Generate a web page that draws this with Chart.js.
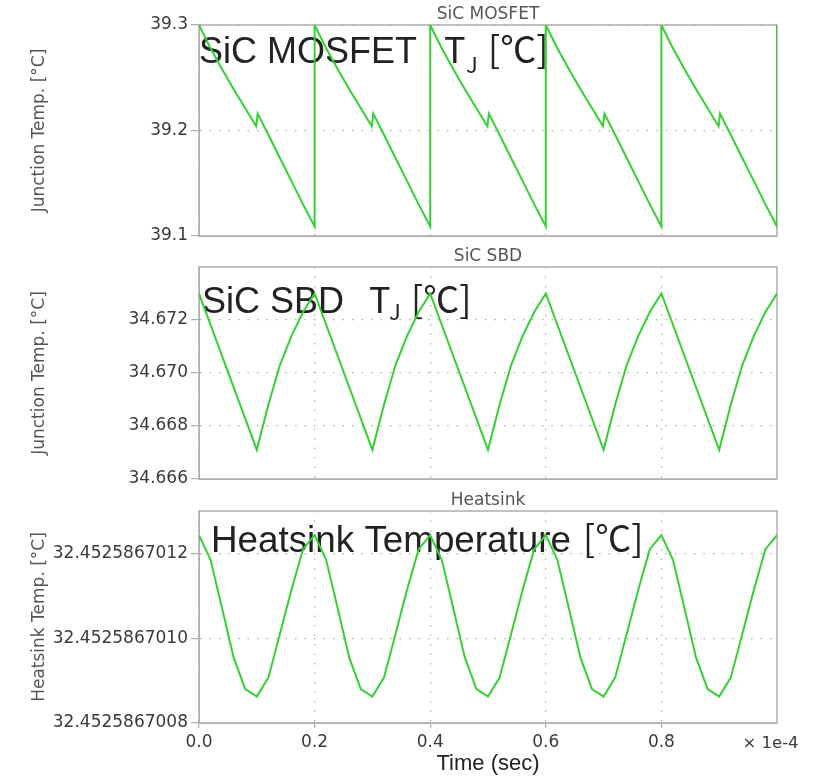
<!DOCTYPE html>
<html><head><meta charset="utf-8">
<script src="https://cdn.jsdelivr.net/npm/chart.js@4.4.0/dist/chart.umd.min.js"></script>
<style>
html,body{margin:0;padding:0;background:#fff;}
#wrap{position:relative;width:822px;height:780px;background:#fff;}
canvas{position:absolute;left:0;top:0;}
</style></head><body>
<div id="wrap">
<canvas id="c1" width="822" height="780"></canvas>
<canvas id="c2" width="822" height="780"></canvas>
<canvas id="c3" width="822" height="780"></canvas>
</div>
<script>
// Time values are in units of 1e-4 s
const X_TICKS = [0, 0.2, 0.4, 0.6, 0.8];

const MOSFET_TIME = [
  0, 0.02, 0.04, 0.06, 0.08, 0.099, 0.1015, 0.12, 0.14, 0.16, 0.18, 0.2,
  0.2, 0.22, 0.24, 0.26, 0.28, 0.299, 0.3015, 0.32, 0.34, 0.36, 0.38, 0.4,
  0.4, 0.42, 0.44, 0.46, 0.48, 0.499, 0.5015, 0.52, 0.54, 0.56, 0.58, 0.6,
  0.6, 0.62, 0.64, 0.66, 0.68, 0.699, 0.7015, 0.72, 0.74, 0.76, 0.78, 0.8,
  0.8, 0.82, 0.84, 0.86, 0.88, 0.899, 0.9015, 0.92, 0.94, 0.96, 0.98, 1.0,
  1.0
];
const MOSFET_TEMP = [
  39.300, 39.278, 39.258, 39.239, 39.221, 39.204, 39.216, 39.196, 39.174, 39.152, 39.130, 39.109,
  39.300, 39.278, 39.258, 39.239, 39.221, 39.204, 39.216, 39.196, 39.174, 39.152, 39.130, 39.109,
  39.300, 39.278, 39.258, 39.239, 39.221, 39.204, 39.216, 39.196, 39.174, 39.152, 39.130, 39.109,
  39.300, 39.278, 39.258, 39.239, 39.221, 39.204, 39.216, 39.196, 39.174, 39.152, 39.130, 39.109,
  39.300, 39.278, 39.258, 39.239, 39.221, 39.204, 39.216, 39.196, 39.174, 39.152, 39.130, 39.109,
  39.300
];
const MOSFET_Y_TICKS = [39.1, 39.2, 39.3];

const SBD_TIME = [
  0, 0.1, 0.12, 0.14, 0.16, 0.18,
  0.2, 0.3, 0.32, 0.34, 0.36, 0.38,
  0.4, 0.5, 0.52, 0.54, 0.56, 0.58,
  0.6, 0.7, 0.72, 0.74, 0.76, 0.78,
  0.8, 0.9, 0.92, 0.94, 0.96, 0.98,
  1.0
];
const SBD_TEMP = [
  34.6730, 34.6671, 34.6688, 34.6703, 34.6714, 34.6723,
  34.6730, 34.6671, 34.6688, 34.6703, 34.6714, 34.6723,
  34.6730, 34.6671, 34.6688, 34.6703, 34.6714, 34.6723,
  34.6730, 34.6671, 34.6688, 34.6703, 34.6714, 34.6723,
  34.6730, 34.6671, 34.6688, 34.6703, 34.6714, 34.6723,
  34.6730
];
const SBD_Y_TICKS = [34.666, 34.668, 34.670, 34.672];

const HEATSINK_TIME = [
  0, 0.02, 0.04, 0.06, 0.08, 0.1, 0.12, 0.14, 0.16, 0.18,
  0.2, 0.22, 0.24, 0.26, 0.28, 0.3, 0.32, 0.34, 0.36, 0.38,
  0.4, 0.42, 0.44, 0.46, 0.48, 0.5, 0.52, 0.54, 0.56, 0.58,
  0.6, 0.62, 0.64, 0.66, 0.68, 0.7, 0.72, 0.74, 0.76, 0.78,
  0.8, 0.82, 0.84, 0.86, 0.88, 0.9, 0.92, 0.94, 0.96, 0.98,
  1.0
];
const HEATSINK_TEMP = [
  32.452586701243, 32.452586701185, 32.45258670107, 32.452586700954, 32.45258670088, 32.4525867008625, 32.452586700907, 32.45258670101, 32.452586701114, 32.45258670121,
  32.452586701243, 32.452586701185, 32.45258670107, 32.452586700954, 32.45258670088, 32.4525867008625, 32.452586700907, 32.45258670101, 32.452586701114, 32.45258670121,
  32.452586701243, 32.452586701185, 32.45258670107, 32.452586700954, 32.45258670088, 32.4525867008625, 32.452586700907, 32.45258670101, 32.452586701114, 32.45258670121,
  32.452586701243, 32.452586701185, 32.45258670107, 32.452586700954, 32.45258670088, 32.4525867008625, 32.452586700907, 32.45258670101, 32.452586701114, 32.45258670121,
  32.452586701243, 32.452586701185, 32.45258670107, 32.452586700954, 32.45258670088, 32.4525867008625, 32.452586700907, 32.45258670101, 32.452586701114, 32.45258670121,
  32.452586701243
];
const HEATSINK_Y_TICKS = [32.4525867008, 32.4525867010, 32.4525867012];

const GREEN = 'rgb(52,208,52)';
const GRIDC = 'rgba(140,140,140,0.7)';
const AXIS = 'rgb(175,175,175)';
const TICKC = '#3a3a3a';
const SMALL_FONT = 'DejaVu Sans';
const SMALL_SIZE = 17;

function panelPlugin(p) {
  return {
    id: 'panel_' + p.id,
    beforeDatasetsDraw(chart) {
      const ctx = chart.ctx, a = chart.chartArea;
      ctx.save();
      ctx.strokeStyle = AXIS; ctx.lineWidth = 1.5;
      ctx.strokeRect(a.left, a.top, a.right - a.left, a.bottom - a.top);
      ctx.fillStyle = '#555';
      ctx.font = SMALL_SIZE + 'px "' + SMALL_FONT + '"';
      ctx.textAlign = 'center'; ctx.textBaseline = 'alphabetic';
      ctx.fillText(p.panelTitle, (a.left + a.right) / 2, a.top - 6);
      ctx.fillStyle = '#222';
      ctx.textAlign = 'left';
      p.label.forEach(part => {
        ctx.font = part.size + 'px ' + part.family;
        ctx.fillText(part.text, part.x, part.y);
      });
      if (p.showX) {
        ctx.fillStyle = TICKC;
        ctx.font = '16.5px "' + SMALL_FONT + '"';
        ctx.textAlign = 'center'; ctx.textBaseline = 'middle';
        ctx.fillText('\u00d7 1e-4', 770.5, 744);
      }
      ctx.restore();
    }
  };
}

function makeChart(p) {
  return new Chart(document.getElementById(p.id), {
    type: 'line',
    data: { datasets: [{
      data: p.time.map((t, i) => ({ x: t, y: p.temp[i] })),
      borderColor: GREEN, borderWidth: 2, pointRadius: 0, tension: 0, fill: false
    }]},
    options: {
      responsive: false, animation: false, devicePixelRatio: 1,
      layout: { padding: { top: p.top, bottom: p.bottom, left: 0, right: 45 } },
      plugins: { legend: { display: false }, tooltip: { enabled: false }, title: { display: false } },
      scales: {
        x: {
          type: 'linear', min: 0, max: 1,
          afterBuildTicks: s => { s.ticks = X_TICKS.map(v => ({ value: v })); },
          afterFit: s => { s.height = p.xHeight; },
          grid: { color: GRIDC, lineWidth: 1.2, drawTicks: p.showX, tickLength: 5, tickColor: AXIS, tickBorderDash: [], tickWidth: 1.2 },
          border: { display: true, color: AXIS, width: 1, dash: [1.5, 8] },
          ticks: { display: p.showX, autoSkip: false, maxRotation: 0, padding: 4, color: TICKC,
                   font: { family: SMALL_FONT, size: SMALL_SIZE }, callback: v => Number(v).toFixed(1) },
          title: { display: p.showX, text: 'Time (sec)', color: '#222',
                   font: { family: 'Liberation Sans', size: 22 }, padding: { top: 0, bottom: 3 } }
        },
        y: {
          type: 'linear', min: p.yMin, max: p.yMax,
          afterBuildTicks: s => { s.ticks = p.yTicks.map(v => ({ value: v })); },
          afterFit: s => { s.width = 199; },
          grid: { color: GRIDC, lineWidth: 1.2, drawTicks: true, tickLength: 8, tickColor: AXIS, tickBorderDash: [], tickWidth: 1.2 },
          border: { display: true, color: AXIS, width: 1, dash: [1.5, 8] },
          ticks: { autoSkip: false, padding: 3, color: TICKC, font: { family: SMALL_FONT, size: SMALL_SIZE },
                   callback: v => Number(v).toFixed(p.dec) },
          title: { display: true, text: p.yTitle, color: '#555',
                   font: { family: SMALL_FONT, size: SMALL_SIZE }, padding: { top: 29, bottom: 0 } }
        }
      }
    },
    plugins: [panelPlugin(p)]
  });
}

const CJK = '"Noto Sans CJK JP"';
const LIB = '"Liberation Sans", "Noto Sans CJK JP"';

makeChart({
  id: 'c1', time: MOSFET_TIME, temp: MOSFET_TEMP, yTicks: MOSFET_Y_TICKS, yMin: 39.1, yMax: 39.3, dec: 1,
  top: 25, bottom: 544, xHeight: 0, showX: false,
  yTitle: 'Junction Temp. [\u00b0C]', panelTitle: 'SiC MOSFET',
  label: [
    { text: 'SiC MOSFET', x: 199, y: 63, size: 36, family: LIB },
    { text: 'T', x: 444, y: 63, size: 36, family: CJK },
    { text: 'J', x: 466, y: 73, size: 22, family: CJK },
    { text: '[\u2103]', x: 488, y: 63, size: 36, family: CJK }
  ]
});
makeChart({
  id: 'c2', time: SBD_TIME, temp: SBD_TEMP, yTicks: SBD_Y_TICKS, yMin: 34.666, yMax: 34.674, dec: 3,
  top: 267, bottom: 301, xHeight: 0, showX: false,
  yTitle: 'Junction Temp. [\u00b0C]', panelTitle: 'SiC SBD',
  label: [
    { text: 'SiC SBD', x: 202, y: 313, size: 36, family: LIB },
    { text: 'T', x: 369, y: 313, size: 36, family: CJK },
    { text: 'J', x: 389, y: 320, size: 22, family: CJK },
    { text: '[\u2103]', x: 411, y: 313, size: 36, family: CJK }
  ]
});
makeChart({
  id: 'c3', time: HEATSINK_TIME, temp: HEATSINK_TEMP, yTicks: HEATSINK_Y_TICKS,
  yMin: 32.4525867008, yMax: 32.4525867013, dec: 10,
  top: 511, bottom: 0, xHeight: 57, showX: true,
  yTitle: 'Heatsink Temp. [\u00b0C]', panelTitle: 'Heatsink',
  label: [
    { text: 'Heatsink Temperature', x: 211, y: 552, size: 36.8, family: LIB },
    { text: '[\u2103]', x: 583, y: 552, size: 36, family: CJK }
  ]
});
</script>
</body></html>
